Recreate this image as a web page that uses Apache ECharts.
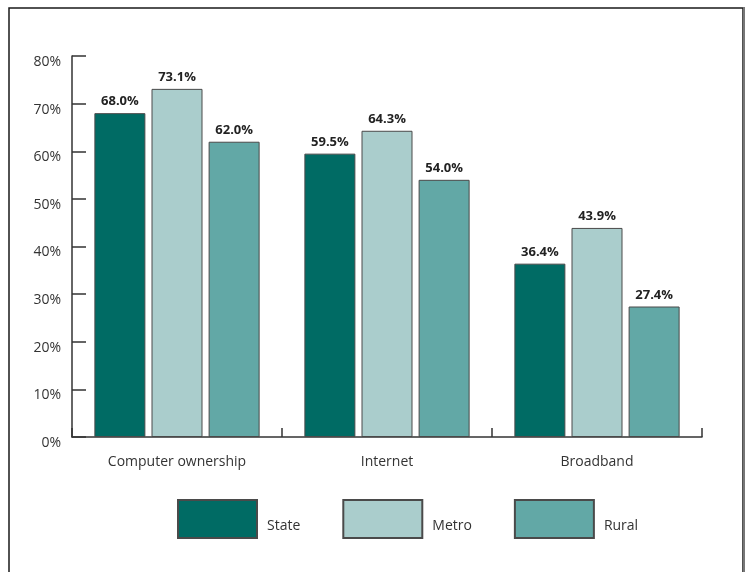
<!DOCTYPE html>
<html>
<head>
<meta charset="utf-8">
<script src="https://cdn.jsdelivr.net/npm/echarts@6/dist/echarts.min.js"></script>
<style>
  html, body { margin: 0; padding: 0; background: #fff; }
  #chart { width: 746px; height: 572px; }
</style>
</head>
<body>
<div id="chart"></div>
<script>
// Household technology adoption by area type
const categories = ['Computer ownership', 'Internet', 'Broadband'];
const seriesNames = ['State', 'Metro', 'Rural'];
const stateValues = [68.0, 59.5, 36.4];
const metroValues = [73.1, 64.3, 43.9];
const ruralValues = [62.0, 54.0, 27.4];
const seriesColors = ['#006b64', '#aacdcc', '#62a8a6'];

const FONT = '"Open Sans", "Noto Sans", sans-serif';
const chart = echarts.init(document.getElementById('chart'));

function barSeries(name, values, color) {
  return {
    name: name,
    type: 'bar',
    data: values,
    barWidth: 51,
    barGap: '12%',
    itemStyle: { color: color, borderColor: '#4a4a4a', borderWidth: 1 },
    label: {
      show: true,
      position: 'top',
      distance: 5,
      formatter: p => p.value.toFixed(1) + '%',
      fontFamily: FONT,
      fontWeight: 'bold',
      fontSize: 13,
      color: '#222'
    }
  };
}

chart.setOption({
  animation: false,
  backgroundColor: '#fff',
  graphic: [
    {
      type: 'rect',
      shape: { x: 9, y: 8, width: 734, height: 600 },
      style: { fill: 'none', stroke: '#1a1a1a', lineWidth: 1.5 },
      silent: true
    },
    {
      type: 'rect',
      shape: { x: 743, y: 7, width: 2, height: 600 },
      style: { fill: '#777' },
      silent: true
    }
  ],
  grid: { left: 72, right: 44, top: 56, bottom: 135 },
  legend: {
    data: seriesNames,
    left: 172,
    top: 494,
    itemWidth: 79,
    itemHeight: 38,
    itemGap: 42,
    icon: 'rect',
    formatter: name => '{t|' + name + '}',
    textStyle: {
      fontFamily: FONT, fontSize: 14, color: '#333',
      rich: {
        t: {
          fontFamily: FONT, fontSize: 14, color: '#333',
          lineHeight: 29, verticalAlign: 'bottom', padding: [0, 0, 0, 5]
        }
      }
    }
  },
  xAxis: {
    type: 'category',
    data: categories,
    axisLine: { lineStyle: { color: '#333', width: 1.5 } },
    axisTick: { show: true, inside: true, length: 9, lineStyle: { color: '#333', width: 1.5 } },
    axisLabel: { margin: 18, fontFamily: FONT, fontSize: 14, color: '#333' }
  },
  yAxis: {
    type: 'value',
    min: 0,
    max: 80,
    interval: 10,
    axisLine: { show: true, lineStyle: { color: '#333', width: 1.5 } },
    axisTick: { show: true, inside: true, length: 14, lineStyle: { color: '#333', width: 1.5 } },
    splitLine: { show: false },
    axisLabel: {
      margin: 11, fontFamily: FONT, fontSize: 14, color: '#333',
      formatter: '{value}%', verticalAlign: 'top', lineHeight: 12
    }
  },
  series: [
    barSeries(seriesNames[0], stateValues, seriesColors[0]),
    barSeries(seriesNames[1], metroValues, seriesColors[1]),
    barSeries(seriesNames[2], ruralValues, seriesColors[2])
  ]
});
</script>
</body>
</html>
